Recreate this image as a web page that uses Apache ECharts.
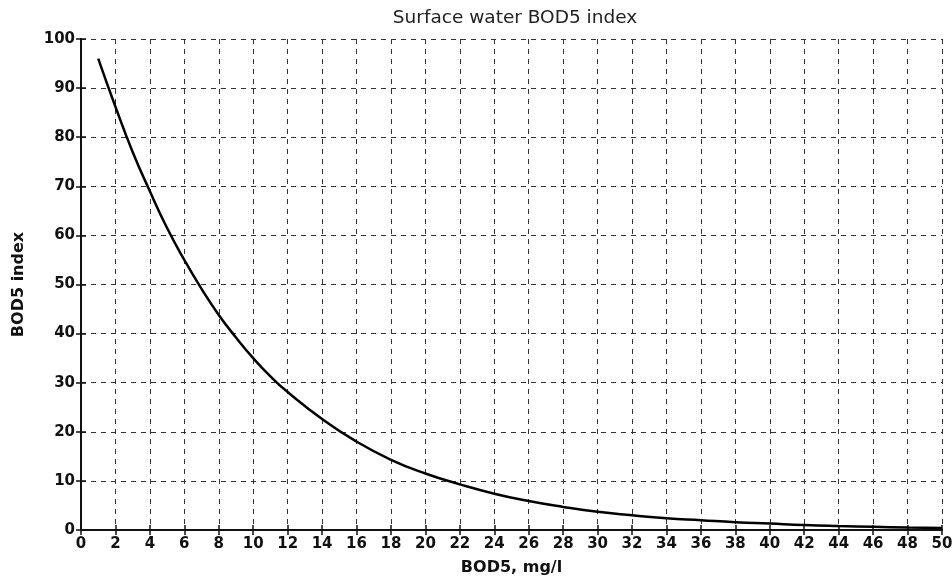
<!DOCTYPE html>
<html>
<head>
<meta charset="utf-8">
<script src="https://cdn.jsdelivr.net/npm/echarts@6/dist/echarts.min.js"></script>
<style>
  html, body { margin: 0; padding: 0; background: #fff; }
  #chart-container { width: 952px; height: 578px; }
</style>
</head>
<body>
<div id="chart-container"></div>
<script>
// BOD5 concentration, mg/l
const bodValues = [1, 2, 3, 4, 5, 6, 7, 8, 9, 10, 11, 12, 14, 16, 18, 20, 22, 24, 26, 28, 30, 32, 34, 36, 38, 40, 42, 44, 46, 48, 50];
// index
const indexValues = [96, 86.2, 77, 69, 61.5, 55, 49.1, 43.8, 39.2, 35, 31.3, 28.1, 22.6, 18, 14.3, 11.5, 9.3, 7.4, 5.9, 4.7, 3.7, 3.0, 2.4, 2.0, 1.6, 1.3, 1.0, 0.8, 0.65, 0.5, 0.4];

const chartTitle = 'Surface water BOD5 index';
const xName = 'BOD5, mg/l';
const yName = 'BOD5 index';

var myChart = echarts.init(document.getElementById('chart-container'));

const tickFont = { fontFamily: 'DejaVu Sans', fontWeight: 'bold', fontSize: 15, color: '#111' };
const nameFont = { fontFamily: 'DejaVu Sans', fontWeight: 'bold', fontSize: 16, color: '#111' };
const gridDash = { type: [5, 5], color: '#333', width: 1 };
const frameLine = { color: '#111', width: 2 };
const innerTick = { inside: true, length: 5, lineStyle: { color: '#111', width: 1.5 } };

const option = {
    animation: false,
    backgroundColor: '#fff',
    title: {
        text: chartTitle,
        left: 510, top: 4, textAlign: 'center',
        textStyle: { fontFamily: 'DejaVu Sans', fontWeight: 'normal', fontSize: 18.5, color: '#222' }
    },
    grid: { left: 81, right: 10, top: 39, bottom: 48, outerBoundsMode: 'none' },
    xAxis: [
        {
            type: 'value', min: 0, max: 50, interval: 2, position: 'bottom',
            name: xName, nameLocation: 'middle', nameGap: 30,
            nameTextStyle: nameFont,
            axisLine: { lineStyle: frameLine },
            axisTick: innerTick,
            axisLabel: Object.assign({ margin: 7 }, tickFont),
            splitLine: { show: true, lineStyle: gridDash }
        },
        {
            type: 'value', min: 0, max: 50, interval: 2, position: 'top',
            axisLine: { lineStyle: frameLine },
            axisTick: innerTick,
            axisLabel: { show: false },
            splitLine: { show: false }
        }
    ],
    yAxis: [
        {
            type: 'value', min: 0, max: 100, interval: 10, position: 'left',
            name: yName, nameLocation: 'middle', nameGap: 54, nameRotate: 90,
            nameTextStyle: nameFont,
            axisLine: { lineStyle: frameLine },
            axisTick: innerTick,
            axisLabel: Object.assign({ margin: 6, padding: [0, 0, 7, 0] }, tickFont),
            splitLine: { show: true, lineStyle: gridDash }
        },
        {
            type: 'value', min: 0, max: 100, interval: 10, position: 'right',
            axisLine: { lineStyle: frameLine },
            axisTick: innerTick,
            axisLabel: { show: false },
            splitLine: { show: false }
        }
    ],
    series: [{
        type: 'line',
        xAxisIndex: 0, yAxisIndex: 0,
        data: bodValues.map((x, i) => [x, indexValues[i]]),
        smooth: true,
        showSymbol: false,
        lineStyle: { color: '#000', width: 2.5 }
    }]
};

myChart.setOption(option);

window.addEventListener('resize', function() {
    myChart.resize();
});
</script>
</body>
</html>
